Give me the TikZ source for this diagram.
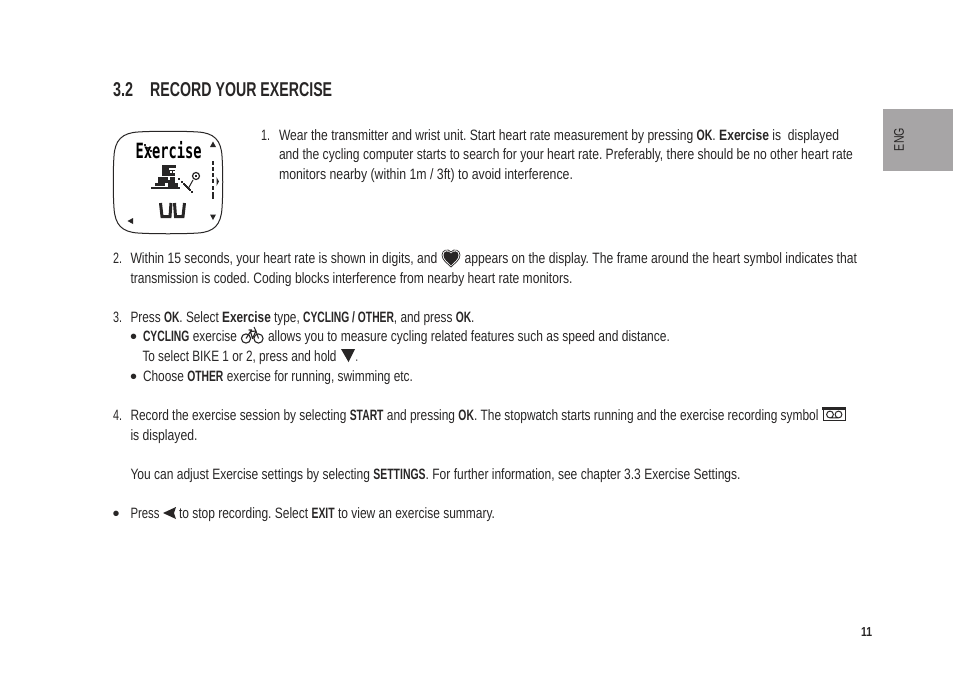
\documentclass[tikz,border=0pt]{standalone}
\usepackage{fontspec}
\usepackage{graphicx}
\setmainfont[FakeStretch=0.68,BoldFont={Liberation Sans Bold},BoldFeatures={FakeStretch=0.68}]{Liberation Sans}
\newfontfamily\headfont[FakeStretch=0.74]{Liberation Sans Bold}
\newfontfamily\lcdfont{DejaVu Sans Mono Bold}
\newfontfamily\bulletfont{Liberation Sans}
\definecolor{tabgray}{RGB}{167,165,166}
\definecolor{inkc}{RGB}{40,38,38}
\tikzset{
  x=1pt,y=-1pt,
  textline/.style={anchor=base west,inner sep=0pt,outer sep=0pt,text=inkc,font=\fontsize{15}{17}\selectfont\frenchspacing},
  bulletmark/.style={anchor=base west,inner sep=0pt,outer sep=0pt,text=inkc,font=\bulletfont\fontsize{20}{22}\selectfont},
  headline/.style={anchor=base west,inner sep=0pt,text=inkc,font=\fontsize{20}{22}\selectfont},
}
\newcommand{\tl}[5]{\node[textline] (#1) at (#2,#3) {\resizebox{#4pt}{\height}{#5}};}
\newcommand{\bc}[1]{\scalebox{0.87}[1]{\textbf{#1}}}
\begin{document}
\begin{tikzpicture}
\useasboundingbox (0,0) rectangle (954,689);
\fill[white] (0,0) rectangle (954,689);
% tab
\fill[tabgray] (883,109) rectangle (953,171);
\node[rotate=90,inner sep=0pt,text=inkc,font=\fontsize{14}{15}\selectfont] (eng) at (899,139.5) {\resizebox{23pt}{\height}{ENG}};
% heading
\node[headline] (h1) at (113,96) {\resizebox{20pt}{\height}{\headfont 3.2}};
\node[headline] (h2) at (150,96) {\resizebox{182pt}{\height}{\headfont RECORD YOUR EXERCISE}};
% text
\tl{a0}{261}{140}{9}{1.}
\tl{a1}{279}{140}{560}{Wear the transmitter and wrist unit. Start heart rate measurement by pressing \bc{OK}. \textbf{Exercise} is\ \ displayed}
\tl{a2}{279}{159.5}{574}{and the cycling computer starts to search for your heart rate. Preferably, there should be no other heart rate}
\tl{a3}{279}{179}{294}{monitors nearby (within 1m / 3ft) to avoid interference.}
\tl{b0}{113}{263}{9}{2.}
\tl{b1}{130.5}{263}{307}{Within 15 seconds, your heart rate is shown in digits, and}
\tl{b2}{464.5}{263}{392.5}{appears on the display. The frame around the heart symbol indicates that}
\tl{b3}{130.5}{283}{442}{transmission is coded. Coding blocks interference from nearby heart rate monitors.}
\tl{c0}{113}{322}{9}{3.}
\tl{c1}{130.5}{322}{344}{Press \bc{OK}. Select \textbf{Exercise} type, \bc{CYCLING / OTHER}, and press \bc{OK}.}
\node[bulletmark] (c2b) at (130,343.2) {•};
\tl{c2}{143}{341.5}{94}{\bc{CYCLING} exercise}
\tl{c3}{268}{341.5}{402}{allows you to measure cycling related features such as speed and distance.}
\tl{c4}{142.5}{361}{194}{To select BIKE 1 or 2, press and hold}
\tl{c5}{355.5}{361}{2.5}{.}
\node[bulletmark] (c6b) at (130,383) {•};
\tl{c6}{143}{381}{270}{Choose \bc{OTHER} exercise for running, swimming etc.}
\tl{d0}{113}{420}{9}{4.}
\tl{d1}{130.5}{420}{688}{Record the exercise session by selecting \bc{START} and pressing \bc{OK}. The stopwatch starts running and the exercise recording symbol}
\tl{d2}{130.5}{440}{67}{is displayed.}
\tl{e1}{130.5}{479}{610}{You can adjust Exercise settings by selecting \bc{SETTINGS}. For further information, see chapter 3.3 Exercise Settings.}
\node[bulletmark] (f0) at (112.5,520.2) {•};
\tl{f1}{130.5}{518}{29}{Press}
\tl{f2}{179}{518}{316}{to stop recording. Select \bc{EXIT} to view an exercise summary.}
\node[anchor=base west,inner sep=0pt,text=inkc,font=\fontsize{13}{14}\selectfont\bfseries] (pg) at (861,636) {\resizebox{11pt}{\height}{11}};
% inline triangles
\fill[inkc] (341,349) -- (355,349) -- (348.5,362) -- cycle;
\fill[inkc] (163,513) -- (176,507) -- (174,513) -- (176,519) -- cycle;
% heart
\draw[inkc,line width=0.7pt] (451,267) .. controls (447,263) and (442,260) .. (442,255) .. controls (442,250) and (448,248) .. (451,252) .. controls (454,248) and (460,250) .. (460,255) .. controls (460,260) and (455,263) .. (451,267) -- cycle;
\fill[inkc] (451,265.5) .. controls (448,262) and (443.5,259.5) .. (443.5,255) .. controls (443.5,251) and (448.5,250) .. (451,253.5) .. controls (453.5,250) and (458.5,251) .. (458.5,255) .. controls (458.5,259.5) and (454,262) .. (451,265.5) -- cycle;
% bike
\draw[inkc,line width=1.1pt] (246,338.5) circle (4.6);
\draw[inkc,line width=1.1pt] (258.5,338.5) circle (4.6);
\draw[inkc,line width=1.1pt,line join=round] (246,338.5) -- (250.5,331.5) -- (256,331) -- (258.5,338.5) (250.5,331.5) -- (252.5,338.5) -- (256,331) (248.5,330) -- (252,330) (254,327) -- (256,331);
% tape
\draw[inkc,line width=1pt] (823,408.5) rectangle (845.5,420.5);
\fill[inkc] (822,407.3) rectangle (846,409.8);
\draw[inkc,line width=1pt] (830,414.5) circle (3.4) (838.5,414.5) circle (3.4) (830,417.9) -- (838.5,417.9);
% watch
\draw[inkc,line width=1pt] (138,132) .. controls (152,131) and (184,131) .. (198,132) .. controls (214,133) and (221,140) .. (222,156) .. controls (223,170) and (223,194) .. (222,208) .. controls (221,225) and (214,232) .. (198,233) .. controls (184,234) and (152,234) .. (138,233) .. controls (122,232) and (115,225) .. (114,208) .. controls (113,194) and (113,170) .. (114,156) .. controls (115,140) and (122,133) .. (138,132) -- cycle;
\node[anchor=base west,inner sep=0pt,text=black,font=\fontsize{21}{22}\selectfont] (lcd) at (135.5,158) {\resizebox{66pt}{\height}{\lcdfont Exercise}};
% arrows on watch
\fill[inkc] (213,141.5) -- (216,147) -- (210,147) -- cycle;
\fill[inkc] (213,220) -- (216,214.5) -- (210,214.5) -- cycle;
\fill[inkc] (127.5,221) -- (133,218) -- (133,224) -- cycle;
\fill[inkc] (219,181.5) -- (216.5,177) -- (216.5,186) -- cycle;
\foreach \yy in {161,167,173,179,186,192} \fill[inkc] (211.5,\yy) rectangle (213.5,\yy+3.5);
\fill[inkc] (211.5,194) rectangle (214,199);
% rider
\fill[inkc] (162,165) rectangle (176,168);
\fill[inkc] (162,168) rectangle (169,176);
\fill[inkc] (169,170) rectangle (175,176);
\fill[white] (170,171) rectangle (172,173);\fill[white] (173,171) rectangle (175,173);
\fill[inkc] (158,177) rectangle (175,183);
\fill[inkc] (168,183) rectangle (178,188);
\fill[inkc] (155,183) rectangle (165,186);
\fill[white] (168,177) rectangle (170,180);
\fill[inkc] (151,187) rectangle (180,189);
\foreach \xx/\yy in {144,188, 147,186, 150,184, 178,183, 181,185, 184,187, 187,189, 189,186, 191,183}
  \fill[inkc] (\xx,\yy) rectangle (\xx+2,\yy+2);
\draw[inkc,line width=1pt] (188,189) -- (193,180);
\draw[inkc,line width=1.2pt] (196,176) circle (3.5);
\fill[inkc] (195,175) rectangle (197,177);
% digits
\draw[inkc,line width=3pt] (160.5,203) -- (162,216.5) -- (170,216.5) -- (171,203);
\draw[inkc,line width=3pt] (174.5,203) -- (175.5,216.5) -- (183,216.5) -- (184.5,203);
\end{tikzpicture}
\end{document}
